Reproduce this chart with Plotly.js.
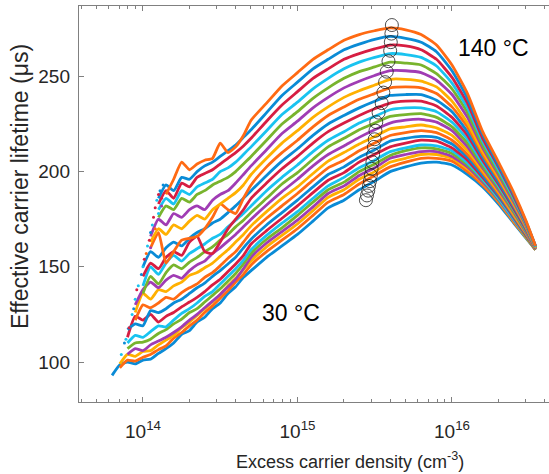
<!DOCTYPE html>
<html><head><meta charset="utf-8">
<script src="https://cdn.plot.ly/plotly-3.0.1.min.js"></script>
<style>html,body{margin:0;padding:0;background:#fff;}#chart{width:549px;height:474px;}</style>
</head><body><div id="chart"></div>
<script>
const xGrid = [6.31e13, 7.08e13, 7.94e13, 8.91e13, 1.0e14, 1.12e14, 1.26e14, 1.41e14, 1.58e14, 1.78e14, 2.0e14, 2.24e14, 2.51e14, 2.82e14, 3.16e14, 3.55e14, 3.98e14, 4.47e14, 5.01e14, 6.31e14, 7.94e14, 1.0e15, 1.26e15, 1.58e15, 2.0e15, 2.51e15, 3.16e15, 3.98e15, 5.01e15, 6.31e15, 7.94e15, 1.0e16, 1.26e16, 1.58e16, 2.0e16, 2.51e16, 3.02e16, 3.47e16];
const temps = [30,35,40,45,50,55,60,65,70,75,80,85,90,95,100,105,110,115,120,125,130,135,140];
const N = null;
const c30 = [93,98.5,100,99,101,101.5,104.5,107,110,114.5,116.5,121,123.5,128,131,136,139.5,144.5,148, 155,161,167,174,181,185,190.5,195,200,202.5,204.5,205,203.5,198.5,192,183,173,165,159];
const c35 = [N, 97,101,100.5,102.5,104,106.5,108.5,112.5,115.5,119,122,126,129.5,133.5,137.5,142,146,151, 158,164,170,177,184,188,193.5,198,202.5,205,207,207,205.5,200,193,184,173.5,165.5,159];
const c40 = [N, 99,104,103,105.5,106,109,111.5,114,118,121,124.5,128,131.5,135.5,140,144,148.5,153, 160.5,166.5,172.5,179.5,186.5,190.5,196,200,205,207,209,209,207,201.5,194,184.5,174,165.5,159];
const c45 = [N,N, 104,107,106,109,111,113,115.5,118.5,122,125,128.5,132,135.5,139.5,143.5,149,155, 162.5,168.5,174.5,181.5,188.5,192.5,198,202,207,209,210.5,210.5,208,202.5,194.5,185,174.5,166,159];
const c50 = [N,N, 107,110,110.5,112,115,117,120,122.5,126,128,131.5,135,138.5,142.5,146.5,151.5,157, 164.5,170.5,177,184,190.5,194.5,200,204,208.5,211,212.5,212,209.5,203.5,195.5,185.5,175,166,159];
const c55 = [N,N, 110,114,113,116,119,118.5,122,125.5,128,131,134.5,137,141,145,149,153.5,159, 166.5,173,179,186,192.5,197,202,206,210.5,212.5,214,213.5,211,204.5,196,186,175,166.5,159.5];
const c60 = [N,N, 113,124,122,125,121,124,126,129,131.5,134,137,140.5,143.5,147.5,151.5,156,162, 169,175.5,182,189,195.5,199.5,205,209,213,215,216.5,216,212.5,206,197,187,176,166.5,159.5];
const c65 = [N,N, 117,120,119,127,126,128,131,133,136,139,141.5,145,148,151.5,155,160,164.5, 172,178.5,185,192,198.5,202.5,207.5,211.5,216,217.5,218.5,218,214.5,207.5,198,187.5,176.5,167,159.5];
const c70 = [N,N,N, 122,130,128.5,131,134,133,136.5,139,141,144.5,147,150.5,154.5,158,163,168, 175.5,182,188.5,195.5,202,206,211,215,219,220.5,221.5,220.5,216.5,209,199.5,188.5,177,167.5,159.5];
const c75 = [N,N,N, 126,136,133,138,137,140,142,145.5,147,149.5,152,155.5,159,163,167,171.5, 179,186,192,199,205.5,210,214.5,218.5,222.5,223.5,224.5,223,219,211,200.5,189.5,177.5,167.5,159.5];
const c80 = [N,N,N, 130,138,142,139,143,145.5,144,148,151,153,157,160,163.5,167,171,175, 182.5,189.5,196,203,209,213.5,218,222,225.5,227,227.5,226,221.5,213,202,190.5,178.5,168,159.5];
const c85 = [N,N,N,N, 136,145,141,147,151,149,152.5,155,158,160.5,164,167,171,174.5,178.5, 186,193.5,199.5,206.5,213,217.5,222,225.5,229,230,230.5,228.5,223.5,215,203,191.5,179,168.5,160];
const c90 = [N,N,N,N, 140,150,146,152,156,153,157,159.5,162,165,167,171,174.5,178,182, 190,197,203.5,210.5,216.5,221,225.5,229,232.5,233.5,233.5,231.5,226,217,204.5,192.5,180,169,160];
const c95 = [N,N,N,N, 145,152,149,155,158,156,163,166,158,157,163,170,175,180,186, 194,201.5,208,215,221,225.5,229.5,233,236,237,237,234.5,228.5,219,206,193.5,180.5,169.5,160];
const c100 = [N,N,N,N, 150,158,155,160,163,161,165,168,170,173,175,178.5,182,186,190, 198,205.5,212,219,225,229.5,233.5,237,240,240.5,240.5,237.5,231.5,221,207.5,194.5,181.5,170,160];
const c105 = [N,N,N,N,N, 160,168,152,158,164,165,166,170,176,183,180,178,186,193, 202.5,210,216.5,223.5,229.5,234,238,241,244,244.5,244,241,234,223.5,209,196,182.5,170.5,160];
const c110 = [N,N,N,N,N, 163,170,167,172,170,174,177,175,180,183,186,189,193,198.5, 207,215,221.5,228.5,234,239,242.5,245.5,248.5,248.5,247.5,244.5,237,225.5,210.5,197,183,171,160];
const c115 = [N,N,N,N,N, 166,175,172,178,176,180,182,180,185,188,190,194,198.5,203, 211.5,220,226.5,233.5,239,244,247.5,250.5,253,253,252,248,240.5,228.5,212.5,198.5,184,171.5,160.5];
const c120 = [N,N,N,N,N,N, 176,182,180,186,184,188,190,193,195,197,200,204,208, 216.5,225,231.5,238.5,244,249,252.5,255,257.5,257,256,251.5,243.5,231,214,199.5,185,172,160.5];
const c125 = [N,N,N,N,N,N, 180,186,183,190,188,192,194,196,200,202,205,209,213, 221.5,230,236.5,243.5,249,254,257.5,260,262,261.5,260,255.5,246.5,233.5,216,201,186,172.5,160.5];
const c130 = [N,N,N,N,N,N, 183,190,186,194,192,197,199,201,204,207,210,213.5,217.5, 226.5,235,242,249,254,259,262,264.5,266.5,266,264,259,249.5,236,217.5,202.5,187,173,161];
const c135 = [N,N,N,N,N,N, 186,193,190,197,196,200,203,205,208,211,214,218,222, 231,240,247,254,259,264,267,269.5,271,270,268,263,253,238.5,219.5,203.5,188,173.5,161];
const c140 = [N,N,N,N,N,N,N, 188,196,205,201,204,206,207,215,210,213,219,227, 236,245,252,259,264,269,272,274,275.5,274.5,272,266.5,256,241,221,205,189,174,161];
const curves = [c30,c35,c40,c45,c50,c55,c60,c65,c70,c75,c80,c85,c90,c95,c100,c105,c110,c115,c120,c125,c130,c135,c140];

const circleX = [2.773e15,2.818e15,2.871e15,2.904e15,2.944e15,2.985e15,3.020e15,3.055e15,3.090e15,3.126e15,3.162e15,3.199e15,3.236e15,3.350e15,3.508e15,3.597e15,3.690e15,3.784e15,3.882e15,3.981e15,4.018e15,4.055e15,4.083e15];
const circleY = [185,187.5,190,192.5,195,198,201.5,205,209,213,217,221.5,226,231,236,241.5,247,252.5,258,263.5,268,272.5,277];

const tailX = [7.24e13,7.59e13,7.76e13,8.13e13,8.51e13,8.71e13,8.91e13,9.12e13,9.33e13,9.77e13,1.0e14,1.02e14,1.05e14,1.07e14,1.10e14,1.12e14,1.15e14,1.17e14,1.20e14,1.23e14,1.26e14,1.29e14,1.32e14,1.26e14,1.20e14,1.35e14,1.12e14,1.32e14];
const tailY = [104,110,112,118,125,128,133,138,140,146,150,154,157,161,164,168,172,176,181,185,188,190,186,178,170,193,160,182];
const tailC = [5,0,5,6,5,0,5,6,5,0,5,6,1,5,6,0,5,6,6,5,6,0,6,5,1,0,3,3];

const palette = ['#0A8BD6','#FF6A13','#FFB000','#A03CB4','#78B42D','#19C3F0','#D71E42'];

const traces = [];
curves.forEach((c, i) => {
  traces.push({x: xGrid, y: c, type: 'scatter', mode: 'lines', name: temps[i] + ' °C',
    line: {color: palette[i % 7], width: 2.8, shape: 'spline', smoothing: 0.5}, connectgaps: false, hoverinfo: 'skip'});
});
traces.push({x: tailX, y: tailY, type: 'scatter', mode: 'markers',
  marker: {size: 3, color: tailC.map(k => palette[k])}, hoverinfo: 'skip'});
traces.push({x: circleX, y: circleY, type: 'scatter', mode: 'markers',
  marker: {symbol: 'circle-open', size: 13, color: '#222', line: {width: 0.8, color: '#222'}}, hoverinfo: 'skip'});

const minorVals = [4e13,5e13,6e13,7e13,8e13,9e13,2e14,3e14,4e14,5e14,6e14,7e14,8e14,9e14,2e15,3e15,4e15,5e15,6e15,7e15,8e15,9e15,2e16,3e16,4e16];
const font = 'Liberation Sans, Arial, Helvetica, sans-serif';
const layout = {
  width: 549, height: 474,
  margin: {l: 79, r: 0, t: 6, b: 72},
  paper_bgcolor: '#fff', plot_bgcolor: '#fff',
  showlegend: false,
  font: {family: font, size: 19, color: '#262626'},
  xaxis: {type: 'log', range: [13.586, 16.628], showgrid: false, zeroline: false,
    showline: true, linecolor: '#808080', linewidth: 1.2, mirror: 'ticks',
    ticks: 'inside', ticklen: 5, tickcolor: '#808080', tickwidth: 1,
    tickmode: 'array', tickvals: [1e14, 1e15, 1e16], ticktext: ['10<sup>14</sup>', '10<sup>15</sup>', '10<sup>16</sup>'],
    tickfont: {size: 19, color: '#262626'}, ticklabelstandoff: 12,
    minor: {tickmode: 'array', tickvals: minorVals, ticks: 'inside', ticklen: 3, tickcolor: '#808080', showgrid: false}},
  yaxis: {range: [79, 287], showgrid: false, zeroline: false,
    showline: true, linecolor: '#808080', linewidth: 1.2, mirror: false,
    ticks: 'inside', ticklen: 5, tickcolor: '#808080', tickwidth: 1,
    tickmode: 'array', tickvals: [100, 150, 200, 250], ticktext: ['100', '150', '200', '250'],
    tickfont: {size: 19, color: '#262626'}, ticklabelstandoff: 4},
  annotations: [
    {text: 'Excess carrier density (cm<sup>-3</sup>)', xref: 'paper', yref: 'paper', x: 0.5766, y: -0.1465,
     xanchor: 'center', yanchor: 'middle', showarrow: false, font: {size: 18, color: '#262626'}},
    {text: 'Effective carrier lifetime (μs)', xref: 'paper', yref: 'paper', x: -0.1255, y: 0.543,
     xanchor: 'center', yanchor: 'middle', textangle: -90, showarrow: false, font: {size: 23, color: '#262626'}},
    {text: '140 °C', xref: 'x', yref: 'y', x: 16.27, y: 265, xanchor: 'center', yanchor: 'middle', showarrow: false, font: {size: 23, color: '#000'}},
    {text: '30 °C', xref: 'x', yref: 'y', x: 14.96, y: 125.7, xanchor: 'center', yanchor: 'middle', showarrow: false, font: {size: 23, color: '#000'}}
  ]
};
Plotly.newPlot('chart', traces, layout, {staticPlot: true, displayModeBar: false});
</script></body></html>
